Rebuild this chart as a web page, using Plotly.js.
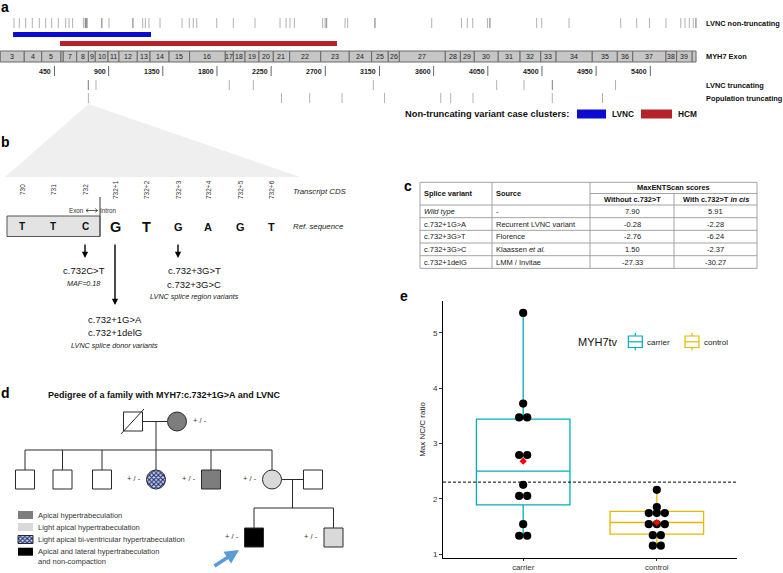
<!DOCTYPE html>
<html>
<head>
<meta charset="utf-8">
<script src="https://cdn.plot.ly/plotly-3.0.1.min.js"></script>
<style>html,body{margin:0;padding:0;background:#fff;}#chart{width:783px;height:573px;}</style>
</head>
<body>
<div id="chart"></div>
<script>
// ================= DATA =================
// Panel a: MYH7 CDS track (bp)
const exonNumbers = [3,4,5,6,7,8,9,10,11,12,13,14,15,16,17,18,19,20,21,22,23,24,25,26,27,28,29,30,31,32,33,34,35,36,37,38,39,40];
const exonBoundsBp = [0,199,344,504,523,635,732,789,895,986,1138,1244,1402,1573,1869,1936,2033,2149,2268,2404,2662,2899,3085,3223,3315,3697,3822,3938,4137,4318,4490,4617,4918,5126,5254,5530,5619,5748,5780];
const unlabeledExons = [6,40];
const lvncNonTruncatingBp = [114,158,211,266,324,377,427,482,543,571,601,690,704,708,714,718,722,842,845,903,1100,1103,1183,1205,1235,1327,1510,1570,1603,1632,1798,1936,2116,2324,2374,2407,2443,2678,2698,2708,2712,2864,2886,3111,3114,3584,3831,3880,3925,4047,4066,4069,4456,4498,4725,5154,5287,5393,5530,5653,5688,5724,5757,5777,5781];
const lvncTruncatingBp = [730,733,795,1902,2102,3099,4124,4351,4585,4588,5111];
const populationTruncatingBp = [732,2336,2570,2839,3192,3659,3742,3927,4586,5003];
const clusterNames = ['LVNC','HCM'];
const clusterStartBp = [106,496];
const clusterEndBp = [1252,2797];
const clusterColors = ['#0b0bd2','#b5222a'];
const cdsTickBp = [450,900,1350,1800,2250,2700,3150,3600,4050,4500,4950,5400];
const trackNames = ['LVNC non-truncating','MYH7 Exon','LVNC truncating','Population truncating'];
const zoomPositionBp = 732;

// Panel b: splice site sequence
const cdsPositions = ['730','731','732','732+1','732+2','732+3','732+4','732+5','732+6'];
const refBases = ['T','T','C','G','T','G','A','G','T'];
const exonBaseCount = 3;
const variantAtIndex = [2,3,5];
const variantNames = [['c.732C>T'],['c.732+1G>A','c.732+1delG'],['c.732+3G>T','c.732+3G>C']];
const variantNotes = ['MAF=0.18','LVNC splice donor variants','LVNC splice region variants'];

// Panel c: MaxENTScan table
const tableHeader = ['Splice variant','Source','MaxENTScan scores','Without c.732>T','With c.732>T <i>in cis</i>'];
const spliceVariants = ['<i>Wild type</i>','c.732+1G>A','c.732+3G>T','c.732+3G>C','c.732+1delG'];
const variantSources = ['-','Recurrent LVNC variant','Florence','Klaassen <i>et al.</i>','LMM / Invitae'];
const scoreWithout = [7.90,-0.28,-2.76,1.50,-27.33];
const scoreWithCis = [5.91,-2.28,-6.24,-2.37,-30.27];

// Panel d: pedigree
const pedigreeTitle = 'Pedigree of a family with MYH7:c.732+1G>A and LVNC';
const phenotypeLabels = ['Apical hypertrabeculation','Light apical hypertrabeculation','Light apical bi-ventricular hypertrabeculation','Apical and lateral hypertrabeculation<br>and non-compaction'];
const personIds   = ['I-1','I-2','II-1','II-2','II-3','II-4','II-5','II-6','II-7','III-1','III-2'];
const personSex   = ['M','F','M','M','M','F','M','F','M','M','M'];
const personPheno = [-1,0,-1,-1,-1,2,0,1,-1,3,1];
const personGeno  = ['', '+ / -','','','','+ / -','+ / -','+ / -','','+ / -','+ / -'];
const personDeceased = [true,false,false,false,false,false,false,false,false,false,false];
const probandId = 'III-1';

// Panel e: boxplot
const groups = ['carrier','control'];
const carrierRatio = [5.36,3.72,3.47,3.47,2.79,2.79,2.25,2.05,2.05,1.54,1.33,1.33];
const controlRatio = [2.16,1.85,1.74,1.74,1.74,1.54,1.54,1.54,1.34,1.34,1.15,1.15];
const boxQ1 = [1.89,1.36];
const boxMedian = [2.50,1.57];
const boxQ3 = [3.44,1.77];
const whiskerLow = [1.33,1.15];
const whiskerHigh = [5.36,2.16];
const ratioThreshold = 2.3;
const groupColors = ['#00AFBB','#E7B800'];
const legendTitle = 'MYH7tv';

// ================= DRAWING =================
const W = 783, H = 573;
const F = 'Liberation Sans, Arial, Helvetica, sans-serif';
const bpRange = [-2.49, 6502.4];
const bp2px = b => (b - bpRange[0]) / (bpRange[1] - bpRange[0]) * W;
const shapes = [], annotations = [], traces = [];

function rect(x0,y0,x1,y1,fill,lineColor,lw,extra){
  shapes.push(Object.assign({type:'rect',xref:'x2',yref:'y',x0,y0,x1,y1,fillcolor:fill||'rgba(0,0,0,0)',
    line:{color:lineColor||'rgba(0,0,0,0)',width:lineColor?(lw||1):0}},extra||{}));
}
function seg(x0,y0,x1,y1,color,width,extra){
  shapes.push(Object.assign({type:'line',xref:'x2',yref:'y',x0,y0,x1,y1,line:{color:color||'#333',width:width||1}},extra||{}));
}
function circ(cx,cy,r,fill,lineColor){
  shapes.push({type:'circle',xref:'x2',yref:'y',x0:cx-r,x1:cx+r,y0:cy-r,y1:cy+r,fillcolor:fill,line:{color:lineColor||'#333',width:1}});
}
function txt(x,y,t,size,opt){
  annotations.push(Object.assign({xref:'x2',yref:'y',x,y,text:t,showarrow:false,
    font:{family:F,size:size,color:'#111'},xanchor:'center',yanchor:'middle',borderpad:0},opt||{}));
}
function arrow(x0,y0,x1,y1,color,width,size){
  annotations.push({xref:'x2',yref:'y',axref:'x2',ayref:'y',x:x1,y:y1,ax:x0,ay:y0,text:'',showarrow:true,
    arrowhead:2,arrowsize:size||1,arrowwidth:width||1.2,arrowcolor:color||'#000',standoff:0,startstandoff:0});
}

// panel letters
[['a',4.5,7],['b',5.5,142],['c',408,186],['d',5.5,393],['e',404,296]].forEach(p=>
  txt(p[1],p[2],'<b>'+p[0]+'</b>',14,{font:{family:F,size:14,color:'#000'}}));

// ---- Panel a ----
const rowY = {nt:[18,28], exon:[51,62], tick:[66,76], tr:[80,90], pop:[93,103]};
function variantTicks(arr,yr){
  arr.forEach(v=>shapes.push({type:'line',xref:'x',yref:'y',x0:v,x1:v,y0:yr[0],y1:yr[1],
    line:{color:'#4a4a4a',width:1},opacity:0.42}));
}
variantTicks(lvncNonTruncatingBp,rowY.nt);
variantTicks(lvncTruncatingBp,rowY.tr);
variantTicks(populationTruncatingBp,rowY.pop);
const clusterRows = [[32,37],[41,46]];
clusterNames.forEach((n,i)=>shapes.push({type:'rect',xref:'x',yref:'y',x0:clusterStartBp[i],x1:clusterEndBp[i],
  y0:clusterRows[i][0],y1:clusterRows[i][1],fillcolor:clusterColors[i],line:{width:0}}));
exonNumbers.forEach((n,i)=>{
  const s=exonBoundsBp[i], e=exonBoundsBp[i+1];
  shapes.push({type:'rect',xref:'x',yref:'y',x0:s,x1:e,y0:rowY.exon[0],y1:rowY.exon[1],fillcolor:'#c6c6c6',line:{color:'#6a6a6a',width:1}});
  if(unlabeledExons.indexOf(n)<0)
    annotations.push({xref:'x',yref:'y',x:(s+e)/2,y:56.8,text:String(n),showarrow:false,font:{family:F,size:7,color:'#222'},borderpad:0});
});
cdsTickBp.forEach(v=>{
  shapes.push({type:'line',xref:'x',yref:'y',x0:v,x1:v,y0:rowY.tick[0],y1:rowY.tick[1],line:{color:'#666',width:1}});
  annotations.push({xref:'x',yref:'y',x:v,y:71.5,xshift:-2,text:'<b>'+v+'</b>',showarrow:false,xanchor:'right',
    font:{family:F,size:7,color:'#222'},borderpad:0});
});
[23.5,56.8,85,98.5].forEach((y,i)=>txt(705,y,'<b>'+trackNames[i]+'</b>',7.4,{xanchor:'left'}));
txt(570,114,'<b>Non-truncating variant case clusters:</b>',9.3,{xanchor:'right'});
const legX = [[577,606],[641,672]];
clusterNames.forEach((n,i)=>{
  rect(legX[i][0],109.5,legX[i][1],118.5,clusterColors[i]);
  txt(legX[i][1]+5,114,'<b>'+n+'</b>',8.3,{xanchor:'left'});
});

// ---- Panel b ----
const apx = bp2px(zoomPositionBp);
shapes.push({type:'path',xref:'x2',yref:'y',path:`M ${apx} 104 L 5 177 L 300 177 Z`,fillcolor:'#efefef',line:{width:0},layer:'below'});
const baseX = [22,53,85,115,146,178,208,240,271];
cdsPositions.forEach((p,i)=>txt(baseX[i],190,p,6.5,{textangle:-90,font:{family:F,size:6.5,color:'#333'}}));
txt(292,191,'<i>Transcript CDS</i>',7.8,{xanchor:'left',font:{family:F,size:7.8,color:'#222'}});
txt(292,226,'<i>Ref. sequence</i>',7.8,{xanchor:'left',font:{family:F,size:7.8,color:'#222'}});
rect(7,216,100,236.5,'#e3e3e3','#555',1);
seg(100,197,100,236.5,'#555',1.2);
txt(84.5,210.5,'Exon',6.3,{xanchor:'right',font:{family:F,size:6.3,color:'#333'}});
txt(99,210.5,'Intron',6.3,{xanchor:'left',font:{family:F,size:6.3,color:'#333'}});
shapes.push({type:'path',xref:'x2',yref:'y',path:'M 86 210.5 L 97.5 210.5 M 88.3 208.6 L 86 210.5 L 88.3 212.4 M 95.2 208.6 L 97.5 210.5 L 95.2 212.4',
  line:{color:'#333',width:0.8}});
refBases.forEach((b,i)=>{
  let size = i<exonBaseCount?10:(i<5?14.5:11);
  txt(baseX[i],226.5,'<b>'+b+'</b>',size,{font:{family:F,size:size,color:'#111'}});
});
const arrowEndY = [258,305,258];
const nameY = [[270.7],[319,332.7],[270.7,284]];
const noteY = [283.3,345.7,296.5];
const groupCx = [83.7,114.7,194];
variantAtIndex.forEach((k,i)=>{
  arrow(baseX[k],243,baseX[k],arrowEndY[i],'#000',1.4,0.9);
  variantNames[i].forEach((n,j)=>txt(groupCx[i],nameY[i][j],n,9.5,{font:{family:F,size:9.5,color:'#111'}}));
  txt(groupCx[i],noteY[i],'<i>'+variantNotes[i]+'</i>',7.2,{font:{family:F,size:7.2,color:'#222'}});
});

// ---- Panel c ----
const colX = [420,492,590,674,757];
const rowTop = 182.3, headMid = 193.5, headBot = 205, rowH = 12.67;
const nRows = spliceVariants.length;
const tBot = headBot + rowH*nRows;
const gridC = '#9a9a9a';
seg(colX[0],rowTop,colX[4],rowTop,gridC,0.9);
seg(colX[2],headMid,colX[4],headMid,gridC,0.9);
for(let r=0;r<=nRows;r++) seg(colX[0],headBot+r*rowH,colX[4],headBot+r*rowH,gridC,0.9);
colX.forEach((x,i)=>seg(x,(i===3?headMid:rowTop),x,tBot,gridC,0.9));
const hf = {family:F,size:7.4,color:'#111'};
txt(colX[0]+3,(rowTop+headBot)/2,'<b>'+tableHeader[0]+'</b>',7.4,{xanchor:'left',font:hf});
txt(colX[1]+3,(rowTop+headBot)/2,'<b>'+tableHeader[1]+'</b>',7.4,{xanchor:'left',font:hf});
txt((colX[2]+colX[4])/2,(rowTop+headMid)/2,'<b>'+tableHeader[2]+'</b>',7.4,{font:hf});
txt((colX[2]+colX[3])/2,(headMid+headBot)/2,'<b>'+tableHeader[3]+'</b>',7.4,{font:hf});
txt((colX[3]+colX[4])/2,(headMid+headBot)/2,'<b>'+tableHeader[4]+'</b>',7.4,{font:hf});
const cf = {family:F,size:7.5,color:'#222'};
spliceVariants.forEach((v,r)=>{
  const y = headBot + rowH*(r+0.5);
  txt(colX[0]+3,y,v,7.5,{xanchor:'left',font:cf});
  txt(colX[1]+3,y,variantSources[r],7.5,{xanchor:'left',font:cf});
  txt((colX[2]+colX[3])/2,y,scoreWithout[r].toFixed(2),7.5,{font:cf});
  txt((colX[3]+colX[4])/2,y,scoreWithCis[r].toFixed(2),7.5,{font:cf});
});

// ---- Panel d ----
txt(47,395,'<b>'+pedigreeTitle+'</b>',9,{xanchor:'left',font:{family:F,size:9,color:'#111'}});
const phenoFill = ['#7d7d7d','#d9d9d9','PATTERN','#000000'];
const personPos = {'I-1':[133,421.5],'I-2':[177,421.5],'II-1':[25,479.5],'II-2':[62.5,479.5],'II-3':[102,479.5],
  'II-4':[156,479.5],'II-5':[211,479.5],'II-6':[272,479.5],'II-7':[313,479.5],'III-1':[254,537.5],'III-2':[333.5,537.5]};
const half = 9.5;
const lc = '#2a2a2a';
seg(142.5,421.5,167.5,421.5,lc); seg(156,421.5,156,450,lc); seg(25,450,272,450,lc);
['II-1','II-2','II-3','II-4','II-5','II-6'].forEach(id=>seg(personPos[id][0],450,personPos[id][0],470,lc));
seg(281.5,479.5,303.5,479.5,lc); seg(292.5,479.5,292.5,508,lc); seg(254,508,333.5,508,lc);
['III-1','III-2'].forEach(id=>seg(personPos[id][0],508,personPos[id][0],528,lc));
function patternPoly(xs,ys){
  traces.push({type:'scatter',xaxis:'x2',yaxis:'y',x:xs,y:ys,mode:'lines',fill:'toself',fillcolor:'#ffffff',
    fillpattern:{shape:'x',fgcolor:'#1d2c6b',bgcolor:'#c9d1ea',size:3.2,solidity:0.55},
    line:{color:lc,width:1},hoverinfo:'skip',showlegend:false});
}
personIds.forEach((id,i)=>{
  const [cx,cy] = personPos[id];
  const ph = personPheno[i];
  const fill = ph<0?'#ffffff':phenoFill[ph];
  if(fill==='PATTERN'){
    const xs=[],ys=[];
    for(let k=0;k<=48;k++){const a=k/48*2*Math.PI; xs.push(cx+half*Math.cos(a)); ys.push(cy+half*Math.sin(a));}
    if(personSex[i]==='F') patternPoly(xs,ys);
    else patternPoly([cx-half,cx+half,cx+half,cx-half,cx-half],[cy-half,cy-half,cy+half,cy+half,cy-half]);
  } else if(personSex[i]==='F') circ(cx,cy,half,fill,lc);
  else rect(cx-half,cy-half,cx+half,cy+half,fill,lc,1);
  if(personDeceased[i]) seg(cx-12,cy+12.5,cx+11,cy-12.5,lc,1);
  if(personGeno[i]){
    if(id==='I-2') txt(cx+half+5,cy-1,personGeno[i],7.5,{xanchor:'left',font:{family:F,size:7.5,color:'#333'}});
    else txt(cx-half-5,cy-1,personGeno[i],7.5,{xanchor:'right',font:{family:F,size:7.5,color:'#333'}});
  }
  if(id===probandId) arrow(cx-41,cy+29.5,cx-15,cy+12.5,'#5b9bd5',3.5,0.8);
});
const legY = [515,527,539.5,551.7];
phenotypeLabels.forEach((l,i)=>{
  if(phenoFill[i]==='PATTERN') patternPoly([18,33,33,18,18],[legY[i]-4,legY[i]-4,legY[i]+4,legY[i]+4,legY[i]-4]);
  else rect(18,legY[i]-4,33,legY[i]+4,phenoFill[i]);
  txt(37,legY[i]-5.3,l,7.5,{xanchor:'left',yanchor:'top',align:'left',font:{family:F,size:7.5,color:'#333'}});
});

// ---- Panel e ----
function dotOffsets(vals,step){
  const cnt={},idx={};
  vals.forEach(v=>cnt[v]=(cnt[v]||0)+1);
  return vals.map(v=>{idx[v]=idx[v]||0; const o=(idx[v]-(cnt[v]-1)/2)*step; idx[v]++; return o;});
}
const groupValues = [carrierRatio,controlRatio];
groups.forEach((g,i)=>{
  traces.push({type:'box',xaxis:'x3',yaxis:'y3',x:[i+1],q1:[boxQ1[i]],median:[boxMedian[i]],q3:[boxQ3[i]],
    lowerfence:[whiskerLow[i]],upperfence:[whiskerHigh[i]],width:0.7,whiskerwidth:0,boxpoints:false,
    fillcolor:'rgba(255,255,255,0)',line:{color:groupColors[i],width:1.3},name:g,showlegend:false,hoverinfo:'skip'});
});
shapes.push({type:'line',xref:'x3',yref:'y3',x0:0.4,x1:2.6,y0:ratioThreshold,y1:ratioThreshold,line:{color:'#000',width:1,dash:'3px,2px'}});
groups.forEach((g,i)=>{
  const vals = groupValues[i];
  const offs = dotOffsets(vals,0.06);
  traces.push({type:'scatter',mode:'markers',xaxis:'x3',yaxis:'y3',x:vals.map((v,k)=>i+1+offs[k]),y:vals,
    marker:{color:'#000',size:8.2,line:{width:0}},showlegend:false,hoverinfo:'skip'});
});
groups.forEach((g,i)=>{
  const vals = groupValues[i];
  const mean = vals.reduce((a,b)=>a+b,0)/vals.length;
  traces.push({type:'scatter',mode:'markers',xaxis:'x3',yaxis:'y3',x:[i+1],y:[mean],
    marker:{color:'#ff0000',size:5.5,symbol:'diamond',line:{width:0}},showlegend:false,hoverinfo:'skip'});
});
txt(577,342.3,legendTitle,11,{xanchor:'left',font:{family:F,size:11,color:'#111'}});
const iconX = [628.3,685];
groups.forEach((g,i)=>{
  const x0=iconX[i], x1=x0+14, xm=x0+7;
  rect(x0,336,x1,347.5,null,groupColors[i],1.2);
  seg(x0,341.8,x1,341.8,groupColors[i],1.2);
  seg(xm,333,xm,336,groupColors[i],1.2);
  seg(xm,347.5,xm,350.5,groupColors[i],1.2);
  txt(x1+3.5,342,g,8,{xanchor:'left',font:{family:F,size:8,color:'#222'}});
});

const axBottom = 558;
const layout = {
  width:W,height:H,margin:{l:0,r:0,t:0,b:0},paper_bgcolor:'#fff',plot_bgcolor:'rgba(0,0,0,0)',
  showlegend:false,hovermode:false,boxmode:'overlay',
  xaxis:{domain:[0,1],range:bpRange,visible:false,fixedrange:true,anchor:'y'},
  xaxis2:{domain:[0,1],range:[0,W],visible:false,overlaying:'x',anchor:'y',fixedrange:true},
  yaxis:{domain:[0,1],range:[H,0],visible:false,fixedrange:true,anchor:'x'},
  xaxis3:{domain:[443/W,737/W],range:[0.4,2.6],anchor:'y3',tickvals:[1,2],ticktext:groups,
    showline:true,linecolor:'#000',linewidth:1,ticks:'outside',ticklen:2,tickcolor:'#333',showgrid:false,zeroline:false,
    tickfont:{family:F,size:7.8,color:'#333'}},
  yaxis3:{domain:[(H-axBottom)/H,(H-301)/H],range:[1-(axBottom-554)/55.3,5.575],anchor:'x3',tickvals:[1,2,3,4,5],
    showline:true,linecolor:'#000',linewidth:1,ticks:'outside',ticklen:3,tickcolor:'#333',showgrid:false,zeroline:false,
    tickfont:{family:F,size:8,color:'#333'},title:{text:'Max NC/C ratio',font:{family:F,size:8,color:'#222'},standoff:6}},
  shapes:shapes,annotations:annotations,
  font:{family:F}
};
Plotly.newPlot('chart',traces,layout,{staticPlot:true,displayModeBar:false});
</script>
</body>
</html>
